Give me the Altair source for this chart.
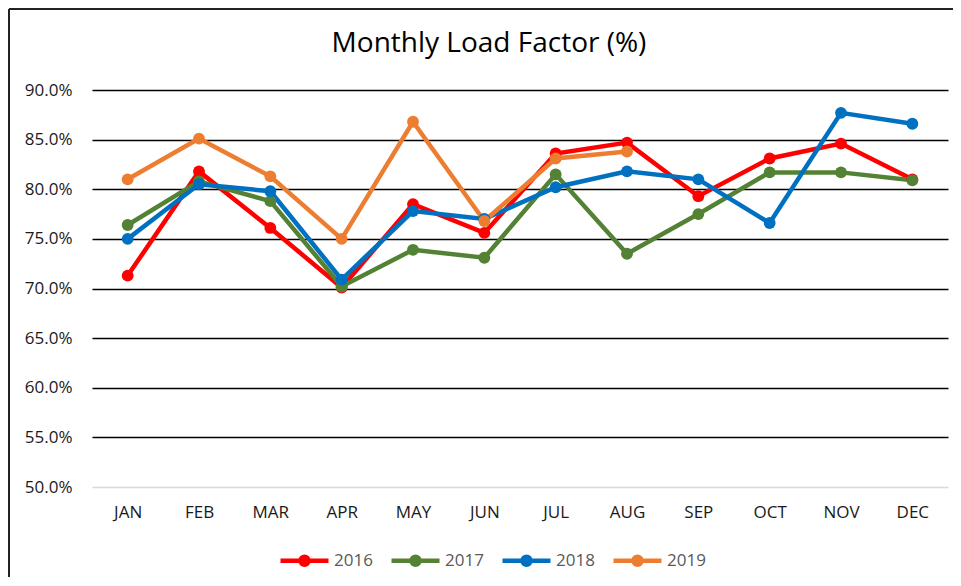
import altair as alt
import pandas as pd

months = ["JAN", "FEB", "MAR", "APR", "MAY", "JUN", "JUL", "AUG", "SEP", "OCT", "NOV", "DEC"]
years = ["2016", "2017", "2018", "2019"]
colors = ["#FF0000", "#548235", "#0070C0", "#ED7D31"]

lf_2016 = [71.3, 81.8, 76.1, 70.1, 78.5, 75.6, 83.6, 84.7, 79.3, 83.1, 84.6, 81.0]
lf_2017 = [76.4, 80.8, 78.8, 70.2, 73.9, 73.1, 81.5, 73.5, 77.5, 81.7, 81.7, 80.9]
lf_2018 = [75.0, 80.5, 79.8, 70.9, 77.8, 77.0, 80.2, 81.8, 81.0, 76.6, 87.7, 86.6]
lf_2019 = [81.0, 85.1, 81.3, 75.0, 86.8, 76.8, 83.1, 83.8]

series = {"2016": lf_2016, "2017": lf_2017, "2018": lf_2018, "2019": lf_2019}
rows = []
for y, vals in series.items():
    for m, v in zip(months, vals):
        rows.append({"Month": m, "Year": y, "Value": v / 100.0})
df = pd.DataFrame(rows)

FONT = "Open Sans"
legend_symbol = "M-3,0L3,0M0.5,0A0.5,0.5,0,1,1,-0.5,0A0.5,0.5,0,1,1,0.5,0Z"

color_scale = alt.Scale(domain=years, range=colors)

base = alt.Chart(df).encode(
    x=alt.X("Month:N", sort=months, title=None,
            scale=alt.Scale(paddingInner=0, paddingOuter=0.5),
            axis=alt.Axis(labelAngle=0, ticks=False, domain=False, grid=False,
                          labelFont=FONT, labelFontSize=17, labelColor="#1a1a1a",
                          labelPadding=17)),
    y=alt.Y("Value:Q", title=None,
            scale=alt.Scale(domain=[0.5, 0.9], nice=False, zero=False),
            axis=alt.Axis(format=".1%", values=[0.5, 0.55, 0.6, 0.65, 0.7, 0.75, 0.8, 0.85, 0.9],
                          ticks=False, domain=False, grid=True,
                          gridColor={"condition": {"test": "datum.value < 0.51", "value": "#d9d9d9"},
                                     "value": "#000000"},
                          gridWidth=1.5,
                          labelFont=FONT, labelFontSize=17, labelColor="#1a1a1a",
                          labelPadding=20)),
    color=alt.Color("Year:N", scale=color_scale,
                    legend=alt.Legend(title=None, orient="none", direction="horizontal",
                                      legendX=202, legendY=460,
                                      symbolType=legend_symbol, symbolSize=256,
                                      symbolStrokeWidth=4.5,
                                      labelOffset=19, columnPadding=9,
                                      labelFont=FONT, labelFontSize=17,
                                      labelColor="#595959")),
)

lines = base.mark_line(strokeWidth=4.5)
points = base.mark_point(filled=True, size=140, opacity=1)

frame_df = pd.DataFrame({"a": [0]})
border_left = alt.Chart(frame_df).mark_rule(color="#222222", strokeWidth=2).encode(
    x=alt.value(-83), x2=alt.value(-83), y=alt.value(-81), y2=alt.value(500)
)
border_top = alt.Chart(frame_df).mark_rule(color="#222222", strokeWidth=2).encode(
    x=alt.value(-83), x2=alt.value(880), y=alt.value(-81), y2=alt.value(-81)
)

chart = alt.layer(lines, points, border_left, border_top).properties(
    width=856,
    height=397,
    title=alt.TitleParams("Monthly Load Factor (%)", font=FONT, fontSize=28,
                          fontWeight="normal", color="#000000",
                          anchor="middle", frame="group", dx=-31, offset=-50),
    autosize=alt.AutoSizeParams(type="none"),
    padding={"left": 84, "top": 82, "right": 5, "bottom": 90},
).configure(background="white").configure_view(stroke=None, strokeWidth=0)

chart.save("out.html", embed_options={"renderer": "svg", "actions": False})
